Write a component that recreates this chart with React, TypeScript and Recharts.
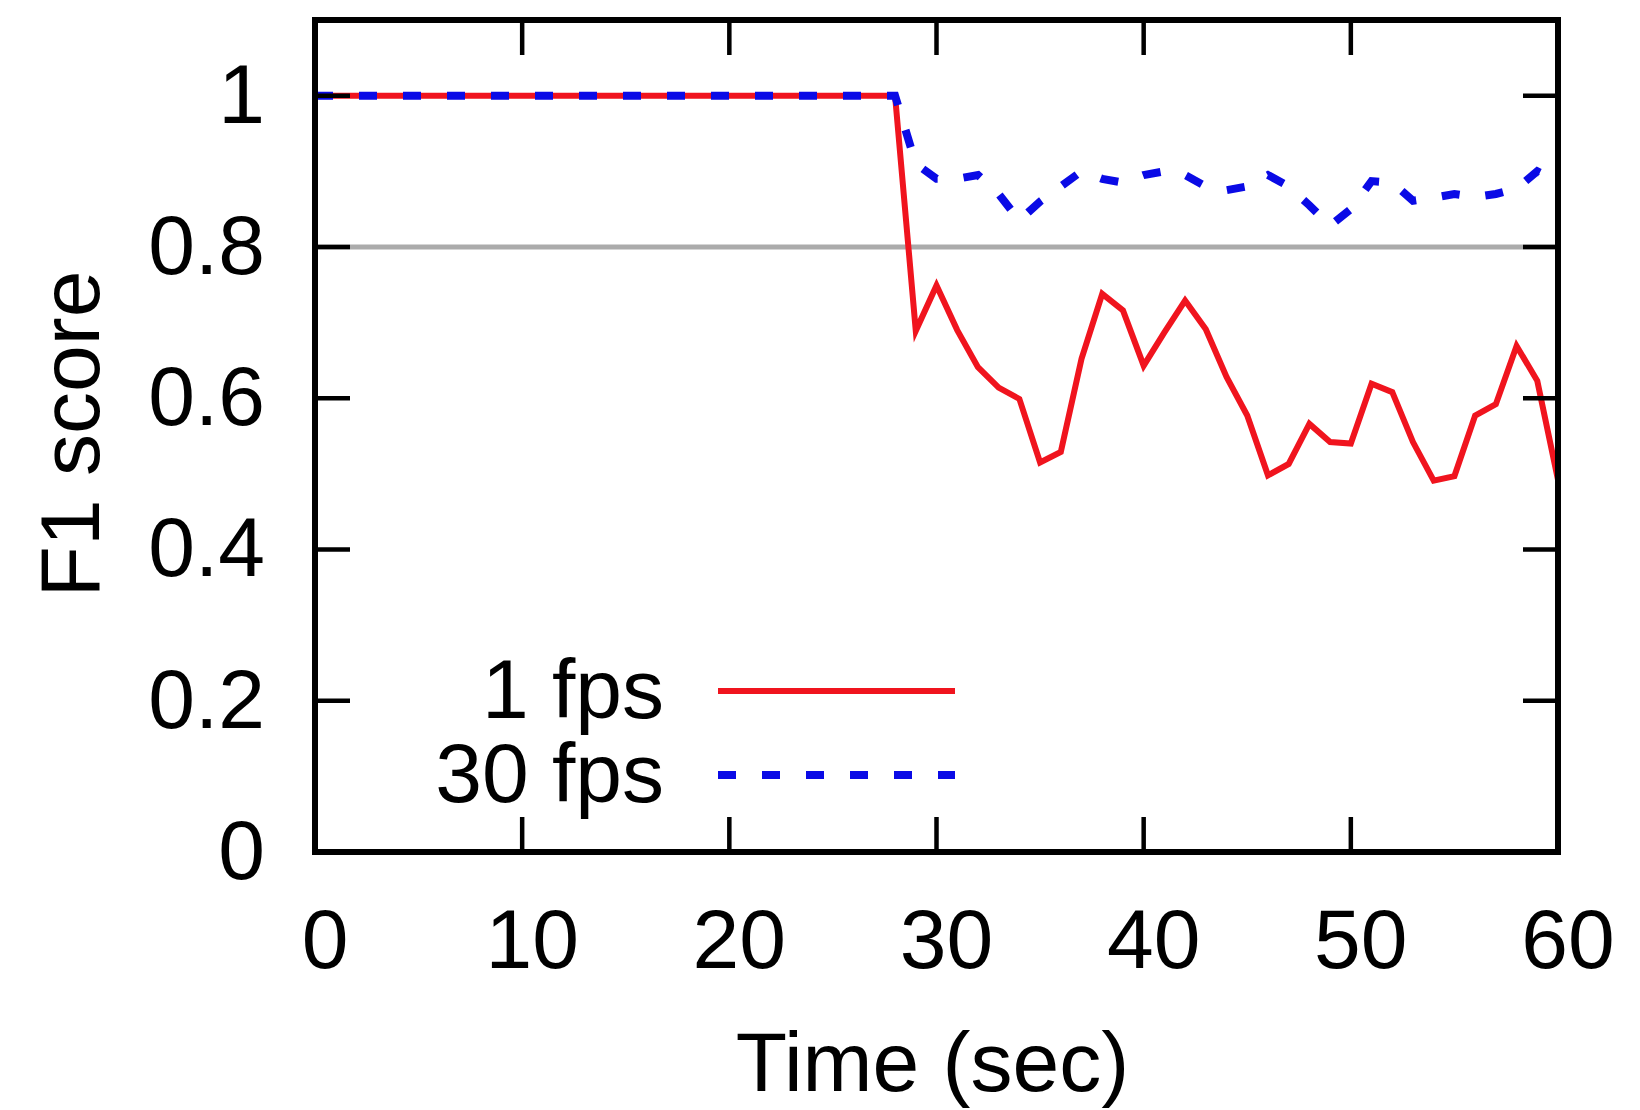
import React from 'react';
import { LineChart, Line, XAxis, YAxis, ReferenceLine, Customized } from 'recharts';

const FONT = '"Liberation Sans", Arial, Helvetica, sans-serif';
const FONT_SIZE = 84;
const TICK_LEN = 35;

// seconds
const time = [
  0, 1, 2, 3, 4, 5, 6, 7, 8, 9, 10, 11, 12, 13, 14, 15, 16, 17, 18, 19, 20,
  21, 22, 23, 24, 25, 26, 27, 28, 29, 30, 31, 32, 33, 34, 35, 36, 37, 38, 39, 40,
  41, 42, 43, 44, 45, 46, 47, 48, 49, 50, 51, 52, 53, 54, 55, 56, 57, 58, 59, 60,
];

// F1 score at 1 fps
const fps1 = [
  1, 1, 1, 1, 1, 1, 1, 1, 1, 1, 1, 1, 1, 1, 1, 1, 1, 1, 1, 1, 1,
  1, 1, 1, 1, 1, 1, 1, 1, 0.689, 0.749, 0.69, 0.641, 0.614, 0.599, 0.515, 0.529, 0.652, 0.738, 0.716, 0.643,
  0.687, 0.729, 0.691, 0.628, 0.577, 0.498, 0.513, 0.566, 0.542, 0.54, 0.619, 0.608, 0.542, 0.491, 0.497, 0.577, 0.592, 0.669, 0.623, 0.492,
];

// F1 score at 30 fps
const fps30 = [
  1, 1, 1, 1, 1, 1, 1, 1, 1, 1, 1, 1, 1, 1, 1, 1, 1, 1, 1, 1, 1,
  1, 1, 1, 1, 1, 1, 1, 1, 0.91, 0.89, 0.89, 0.895, 0.87, 0.835, 0.86, 0.88, 0.9, 0.89, 0.885, 0.895,
  0.9, 0.895, 0.88, 0.875, 0.88, 0.895, 0.88, 0.855, 0.828, 0.85, 0.887, 0.885, 0.861, 0.865, 0.87, 0.866, 0.87, 0.877, 0.9, 0.887,
];

const xTicks = [0, 10, 20, 30, 40, 50, 60];
const yTicks = [0, 0.2, 0.4, 0.6, 0.8, 1];
const threshold = 0.8;

const series = [
  { key: 'fps1', name: '1 fps', color: '#f0141e', width: 6, dash: undefined as string | undefined },
  { key: 'fps30', name: '30 fps', color: '#0a0ae6', width: 8, dash: '18 26' },
];

const data = time.map((t, i) => ({ t, fps1: fps1[i], fps30: fps30[i] }));

const BottomTick = (props: any) => {
  const { x, y, payload } = props;
  return (
    <g>
      <line x1={x} x2={x} y1={y} y2={y - TICK_LEN} stroke="#000" strokeWidth={4.5} />
      <text x={x + 10} y={y + 116} textAnchor="middle" fontSize={FONT_SIZE} fontFamily={FONT} fill="#000">
        {payload.value}
      </text>
    </g>
  );
};

const LeftTick = (props: any) => {
  const { x, y, payload } = props;
  return (
    <g>
      <line x1={x} x2={x + TICK_LEN} y1={y} y2={y} stroke="#000" strokeWidth={4.5} />
      <text x={x - 50} y={y + 27} textAnchor="end" fontSize={FONT_SIZE} fontFamily={FONT} fill="#000">
        {payload.value}
      </text>
    </g>
  );
};

const TopTick = (props: any) => {
  const { x, y } = props;
  return <line x1={x} x2={x} y1={y} y2={y + TICK_LEN} stroke="#000" strokeWidth={4.5} />;
};

const RightTick = (props: any) => {
  const { x, y } = props;
  return <line x1={x} x2={x - TICK_LEN} y1={y} y2={y} stroke="#000" strokeWidth={4.5} />;
};

const KeyBox = () => (
  <g>
    {series.map((s, i) => (
      <g key={s.key}>
        <text x={664} y={718 + i * 84} textAnchor="end" fontSize={FONT_SIZE} fontFamily={FONT} fill="#000">
          {s.name}
        </text>
        <line
          x1={718}
          x2={955}
          y1={691 + i * 84}
          y2={691 + i * 84}
          stroke={s.color}
          strokeWidth={s.width}
          strokeDasharray={s.dash}
        />
      </g>
    ))}
  </g>
);

const axisLine = { stroke: '#000', strokeWidth: 6, strokeLinecap: 'square' as const };

export default function App() {
  return (
    <div style={{ position: 'absolute', left: 0, top: 0, background: '#fff' }}>
      <LineChart width={1640} height={1110} data={data} margin={{ top: 19, right: 81, bottom: 0, left: 0 }}>
        <XAxis
          dataKey="t"
          type="number"
          domain={[0, 60]}
          ticks={xTicks}
          height={258}
          tickSize={0}
          tickMargin={0}
          tickLine={false}
          axisLine={axisLine}
          tick={<BottomTick />}
          label={{
            content: (p: any) => (
              <text
                x={p.viewBox.x + p.viewBox.width / 2 - 4}
                y={p.viewBox.y + 239}
                textAnchor="middle"
                fontSize={FONT_SIZE}
                fontFamily={FONT}
                fill="#000"
              >
                Time (sec)
              </text>
            ),
          }}
        />
        <XAxis
          xAxisId="top"
          orientation="top"
          dataKey="t"
          type="number"
          domain={[0, 60]}
          allowDataOverflow
          ticks={xTicks}
          height={1}
          tickSize={0}
          tickMargin={0}
          tickLine={false}
          axisLine={axisLine}
          tick={<TopTick />}
        />
        <YAxis
          type="number"
          domain={[0, 1.1]}
          ticks={yTicks}
          width={315}
          tickSize={0}
          tickMargin={0}
          tickLine={false}
          axisLine={axisLine}
          tick={<LeftTick />}
          label={{
            content: (p: any) => {
              const cx = 99;
              const cy = p.viewBox.y + p.viewBox.height / 2 - 2;
              return (
                <text
                  x={cx}
                  y={cy}
                  transform={`rotate(-90, ${cx}, ${cy})`}
                  textAnchor="middle"
                  fontSize={FONT_SIZE}
                  fontFamily={FONT}
                  fill="#000"
                >
                  F1 score
                </text>
              );
            },
          }}
        />
        <YAxis
          yAxisId="right"
          orientation="right"
          type="number"
          domain={[0, 1.1]}
          allowDataOverflow
          ticks={yTicks}
          width={1}
          tickSize={0}
          tickMargin={0}
          tickLine={false}
          axisLine={axisLine}
          tick={<RightTick />}
        />
        <ReferenceLine y={threshold} stroke="#ababab" strokeWidth={5} />
        {series.map((s) => (
          <Line
            key={s.key}
            type="linear"
            dataKey={s.key}
            name={s.name}
            stroke={s.color}
            strokeWidth={s.width}
            strokeDasharray={s.dash}
            dot={false}
            activeDot={false}
            isAnimationActive={false}
          />
        ))}
        {/* mirror axes need a series to be drawn; this one is invisible */}
        <Line
          xAxisId="top"
          yAxisId="right"
          dataKey="fps1"
          stroke="none"
          dot={false}
          activeDot={false}
          legendType="none"
          isAnimationActive={false}
        />
        <Customized component={KeyBox} />
      </LineChart>
    </div>
  );
}
